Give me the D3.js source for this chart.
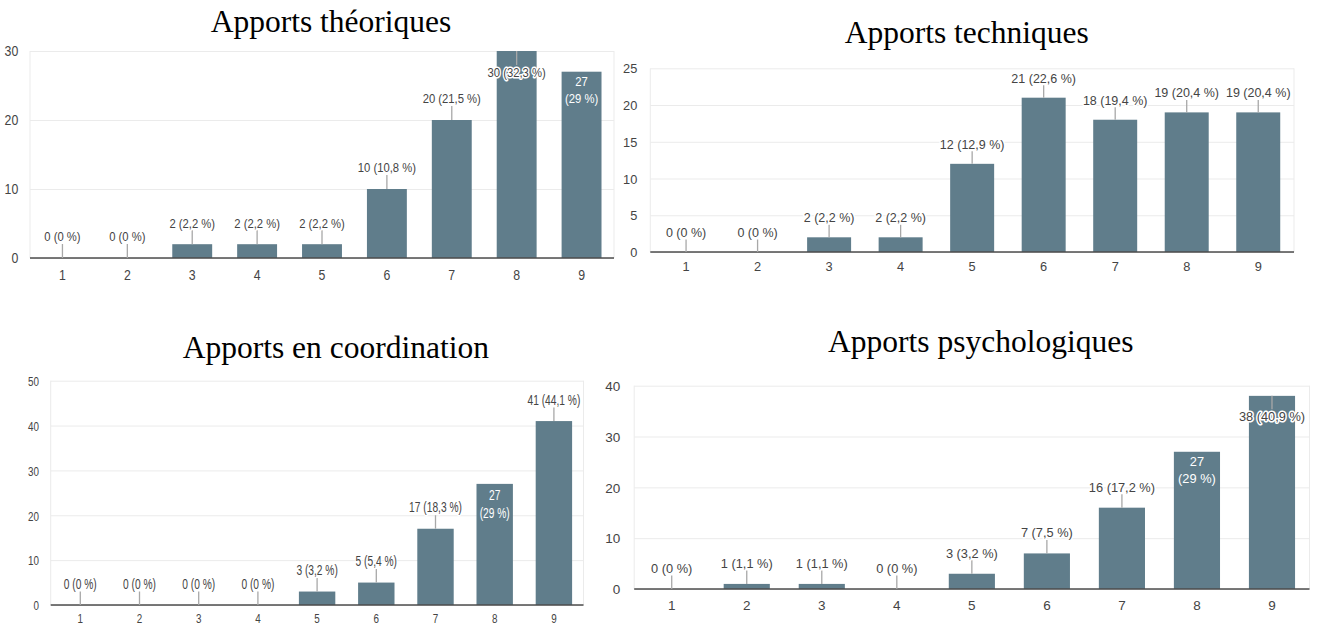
<!DOCTYPE html>
<html>
<head>
<meta charset="utf-8">
<script src="https://cdn.jsdelivr.net/npm/d3@7"></script>
<style>
  html, body { margin: 0; padding: 0; background: #ffffff; }
  svg { display: block; }
</style>
</head>
<body>
<svg id="chart" width="1320" height="626"></svg>
<script>
// Answers on a 1–9 scale, counts of respondents per score
const categories = ["1", "2", "3", "4", "5", "6", "7", "8", "9"];

const titles = [
  "Apports théoriques",
  "Apports techniques",
  "Apports en coordination",
  "Apports psychologiques"
];

const valuesTheoriques     = [0, 0, 2, 2, 2, 10, 20, 30, 27];
const valuesTechniques     = [0, 0, 2, 2, 12, 21, 18, 19, 19];
const valuesCoordination   = [0, 0, 0, 0, 3, 5, 17, 27, 41];
const valuesPsychologiques = [0, 1, 1, 0, 3, 7, 16, 27, 38];

const ticksTheoriques     = [0, 10, 20, 30];
const ticksTechniques     = [0, 5, 10, 15, 20, 25];
const ticksCoordination   = [0, 10, 20, 30, 40, 50];
const ticksPsychologiques = [0, 10, 20, 30, 40];

// Layout of the four small charts
const panels = [
  { title: titles[0], values: valuesTheoriques, ticks: ticksTheoriques,
    x0: 30, x1: 614, yTop: 51, yBase: 258, titleX: 331, titleY: 31.7,
    fs: 12.8, tfs: 14, sx: 0.88, yGap: 11.7, xOff: 22, stem: 14,
    modes: { "8": "below", "9": "wrap" } },
  { title: titles[1], values: valuesTechniques, ticks: ticksTechniques,
    x0: 650.3, x1: 1294, yTop: 68.3, yBase: 252, titleX: 966.7, titleY: 43.3,
    fs: 12.5, tfs: 12.8, sx: 1, yGap: 13, xOff: 19, stem: 12.5,
    modes: {} },
  { title: titles[2], values: valuesCoordination, ticks: ticksCoordination,
    x0: 50.7, x1: 583.5, yTop: 380.7, yBase: 605, titleX: 335.8, titleY: 358.3,
    fs: 14, tfs: 13.5, sx: 0.73, yGap: 11.7, xOff: 18.5, stem: 13.5,
    modes: { "8": "wrap" } },
  { title: titles[3], values: valuesPsychologiques, ticks: ticksPsychologiques,
    x0: 634.2, x1: 1309.5, yTop: 385.7, yBase: 589, titleX: 980.8, titleY: 351.7,
    fs: 12.8, tfs: 13.5, sx: 1, yGap: 14, xOff: 20.5, stem: 13.5,
    modes: { "8": "wrap", "9": "below" } }
];

const BAR = "#607d8b";
const GRID = "#ebebeb";
const TEXT = "#444444";
const SANS = "'Liberation Sans', Arial, sans-serif";
const SERIF = "'Liberation Serif', 'Times New Roman', serif";

const pctFmt = d3.format(".1~f");
const labelFor = (v, total) => `${v} (${pctFmt(v / total * 100).replace(".", ",")} %)`;

const svg = d3.select("#chart");

panels.forEach(p => {
  const g = svg.append("g");
  const total = d3.sum(p.values);
  const rows = categories.map((c, i) => ({ cat: c, value: p.values[i] }));

  const x = d3.scaleBand()
    .domain(categories)
    .range([p.x0, p.x1])
    .paddingInner(0.385)
    .paddingOuter(0.1925);
  const y = d3.scaleLinear()
    .domain([0, d3.max(p.ticks)])
    .range([p.yBase, p.yTop]);

  // Title
  g.append("text")
    .attr("x", p.titleX).attr("y", p.titleY)
    .attr("text-anchor", "middle")
    .style("font-family", SERIF)
    .style("font-size", "31.5px")
    .style("fill", "#000")
    .text(p.title);

  // Horizontal gridlines and value axis
  const yAxis = g.append("g")
    .attr("transform", `translate(${p.x0},0)`)
    .call(d3.axisLeft(y).tickValues(p.ticks).tickSize(-(p.x1 - p.x0)).tickPadding(0));
  yAxis.select(".domain").remove();
  yAxis.selectAll(".tick line").attr("stroke", GRID).attr("stroke-width", 1);
  yAxis.selectAll(".tick text")
    .attr("x", -p.yGap / p.sx)
    .attr("dy", "0.35em")
    .attr("transform", `scale(${p.sx},1)`)
    .style("font-family", SANS)
    .style("font-size", p.tfs + "px")
    .style("fill", TEXT);

  // Side borders of the plot area
  g.selectAll("line.side").data([p.x0, p.x1]).join("line")
    .attr("class", "side")
    .attr("x1", d => d).attr("x2", d => d)
    .attr("y1", p.yTop).attr("y2", p.yBase)
    .attr("stroke", GRID).attr("stroke-width", 1);

  // Bars
  g.selectAll("rect.bar").data(rows).join("rect")
    .attr("class", "bar")
    .attr("x", d => x(d.cat))
    .attr("width", x.bandwidth())
    .attr("y", d => y(d.value))
    .attr("height", d => y(0) - y(d.value))
    .attr("fill", BAR);

  // Baseline
  g.append("line")
    .attr("x1", p.x0).attr("x2", p.x1)
    .attr("y1", y(0)).attr("y2", y(0))
    .attr("stroke", "#4d4d4d").attr("stroke-width", 1.6);

  // Category axis
  const xAxis = g.append("g")
    .attr("transform", `translate(0,${p.yBase})`)
    .call(d3.axisBottom(x).tickSize(0));
  xAxis.select(".domain").remove();
  xAxis.selectAll(".tick text")
    .attr("y", p.xOff)
    .attr("dy", 0)
    .attr("transform", `scale(${p.sx},1)`)
    .style("font-family", SANS)
    .style("font-size", p.tfs + "px")
    .style("fill", TEXT);

  // Value annotations
  rows.forEach(d => {
    const cx = x(d.cat) + x.bandwidth() / 2;
    const top = y(d.value);
    const mode = p.modes[d.cat] || "above";
    if (mode === "wrap") {
      const lines = labelFor(d.value, total).split(" (");
      const l1 = top + 1.15 * p.fs;
      [lines[0], "(" + lines[1]].forEach((t, k) => {
        g.append("text")
          .attr("text-anchor", "middle")
          .attr("transform", `translate(${cx},${l1 + k * 1.3 * p.fs}) scale(${p.sx},1)`)
          .style("font-family", SANS)
          .style("font-size", p.fs + "px")
          .style("fill", "#ffffff")
          .text(t);
      });
      return;
    }
    const dir = mode === "below" ? 1 : -1;
    const end = top + dir * p.stem;
    g.append("line")
      .attr("x1", cx).attr("x2", cx)
      .attr("y1", top).attr("y2", end)
      .attr("stroke", "#a8a8a8").attr("stroke-width", 1.3);
    const base = mode === "below" ? end + 0.9 * p.fs : end - 0.2 * p.fs;
    g.append("text")
      .attr("text-anchor", "middle")
      .attr("transform", `translate(${cx},${base}) scale(${p.sx},1)`)
      .style("font-family", SANS)
      .style("font-size", p.fs + "px")
      .style("fill", TEXT)
      .style("stroke", "#ffffff")
      .style("stroke-width", 3)
      .style("stroke-linejoin", "round")
      .style("paint-order", "stroke")
      .text(labelFor(d.value, total));
  });
});
</script>
</body>
</html>
